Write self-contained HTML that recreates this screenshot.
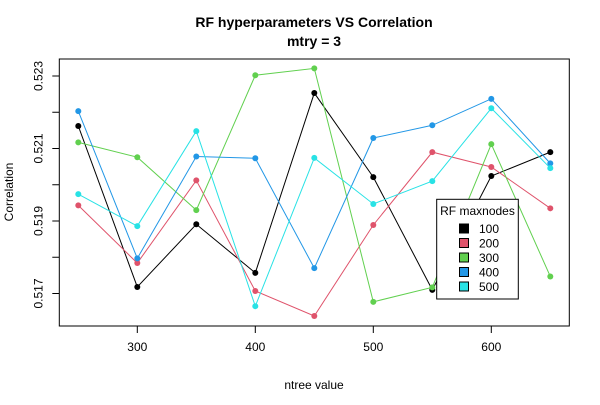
<!DOCTYPE html>
<html><head><meta charset="utf-8"><style>
body{margin:0;background:#fff;}
svg text{font-family:"Liberation Sans",Arial,sans-serif;}
</style></head><body>
<svg id="chart" width="600" height="400" xmlns="http://www.w3.org/2000/svg">
<rect width="600" height="400" fill="#fff"/>
<g id="g"></g>
</svg>
<script>
const xCats=[250,300,350,400,450,500,550,600,650];
const s100=[0.52162,0.51718,0.51891,0.51757,0.52253,0.52021,0.51710,0.52024,0.52090];
const s200=[0.51943,0.51784,0.52012,0.51707,0.51638,0.51889,0.52090,0.52049,0.51935];
const s300=[0.52117,0.52076,0.51930,0.52302,0.52321,0.51677,0.51717,0.52112,0.51747];
const s400=[0.52203,0.51797,0.52078,0.52073,0.51770,0.52129,0.52164,0.52237,0.52059];
const s500=[0.51974,0.51886,0.52148,0.51665,0.52074,0.51947,0.52010,0.52211,0.52046];
const seriesNames=["100","200","300","400","500"];
const xTicks=[300,400,500,600];
const yTicks=[0.517,0.519,0.521,0.523];
const yMinorTicks=[0.518,0.520,0.522];
const colors=["#000000","#DF536B","#61D04F","#2297E6","#28E2E5"];
const series=[s100,s200,s300,s400,s500];
const NS="http://www.w3.org/2000/svg";
const g=document.getElementById('g');
function X(v){return 137.3+(v-300)*1.18;}
function Y(v){return 76+(0.523-v)*36250;}
function mk(t,a,p){const e=document.createElementNS(NS,t);for(const k in a)e.setAttribute(k,a[k]);(p||g).appendChild(e);return e;}
const L=59.3,R=569.3,T=59,B=326;
let e=mk('rect',{x:L,y:T,width:R-L,height:B-T,fill:'none',stroke:'#000','stroke-width':1});


xTicks.forEach(v=>{
 mk('line',{x1:X(v),x2:X(v),y1:B,y2:B+7,stroke:'#000'});
 const t=mk('text',{x:X(v),y:B+25,'text-anchor':'middle','font-size':12});t.textContent=v;
 
 
});
yTicks.concat(yMinorTicks).forEach(v=>mk('line',{x1:L-7,x2:L,y1:Y(v),y2:Y(v),stroke:'#000'}));
yTicks.forEach(v=>{
 const t=mk('text',{x:0,y:0,'text-anchor':'middle','font-size':12,transform:`translate(${L-17},${Y(v)}) rotate(-90)`});t.textContent=v.toFixed(3);
 
 
});
series.forEach((s,i)=>{
 const pts=s.map((v,j)=>X(xCats[j])+','+Y(v)).join(' ');
 const pl=mk('polyline',{points:pts,fill:'none',stroke:colors[i],'stroke-width':1});
 
 
 s.forEach((v,j)=>{
  const c=mk('circle',{cx:X(xCats[j]),cy:Y(v),r:3,fill:colors[i]});
  
  
 });
});
// titles
let t=mk('text',{x:314,y:27,'text-anchor':'middle','font-size':14,'font-weight':'bold'});t.textContent='RF hyperparameters VS Correlation';


t=mk('text',{x:314,y:46,'text-anchor':'middle','font-size':14,'font-weight':'bold'});t.textContent='mtry = 3';


t=mk('text',{x:314,y:389,'text-anchor':'middle','font-size':12});t.textContent='ntree value';


t=mk('text',{x:0,y:0,'text-anchor':'middle','font-size':12,transform:'translate(13,192) rotate(-90)'});t.textContent='Correlation';


// legend
const lg=mk('g',{});


mk('rect',{x:436.7,y:199.3,width:81.6,height:99.7,fill:'#fff',stroke:'#000'},lg);
t=mk('text',{x:477.5,y:215,'text-anchor':'middle','font-size':12},lg);t.textContent='RF maxnodes';
seriesNames.forEach((n,i)=>{
 const y=228.5+i*14.5;
 const r=mk('rect',{x:459.5,y:y-4.5,width:9,height:9,fill:colors[i],stroke:'#000'},lg);
 
 
 const tx=mk('text',{x:479,y:y+4.5,'font-size':12},lg);tx.textContent=n;
 
 
});
</script>
</body></html>
